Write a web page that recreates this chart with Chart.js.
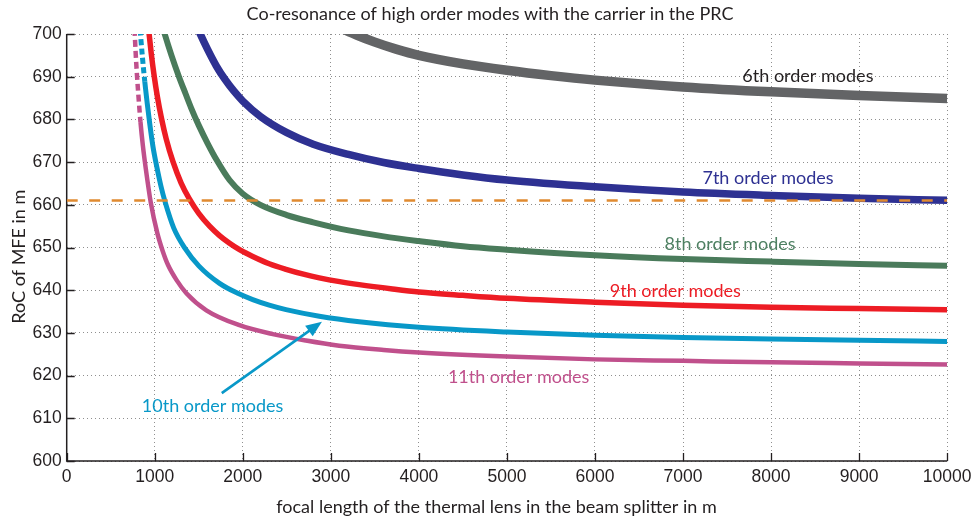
<!DOCTYPE html>
<html><head><meta charset="utf-8">
<script src="https://cdn.jsdelivr.net/npm/chart.js@4.4.1/dist/chart.umd.min.js"></script>
<style>html,body{margin:0;padding:0;background:#fff}canvas{display:block}</style>
</head><body>
<canvas id="c" width="977" height="520"></canvas>
<script>
// ---- data ----
const xTickLabels = ['0','1000','2000','3000','4000','5000','6000','7000','8000','9000','10000'];
const yTickLabels = ['600','610','620','630','640','650','660','670','680','690','700'];

const mode6X = [3100, 3300, 3500, 3750, 4000, 4500, 5000, 5500, 6000, 7000, 8000, 9000, 10000];
const mode6Y = [701.5, 699.7, 698.1, 696.4, 695.0, 693.0, 691.5, 690.25, 689.2, 687.6, 686.45, 685.6, 684.9];

const mode7X = [1480, 1517, 1600, 1700, 1800, 1900, 2000, 2200, 2500, 2800, 3200, 3600, 4000, 4500, 5000, 6000, 7000, 8000, 9000, 10000];
const mode7Y = [701.8, 700.0, 696.4, 692.5, 689.3, 686.6, 684.3, 680.7, 676.9, 674.2, 671.8, 669.9, 668.5, 667.0, 665.8, 664.2, 663.0, 662.2, 661.55, 661.05];

const mode8X = [1085, 1113, 1190, 1275, 1350, 1415, 1500, 1600, 1700, 1849, 2000, 2200, 2500, 2800, 3200, 3600, 4000, 4500, 5000, 6000, 7000, 8000, 9000, 10000];
const mode8Y = [702.0, 700.0, 695.0, 690.0, 686.0, 682.6, 678.6, 674.4, 670.6, 665.8, 662.6, 660.0, 657.6, 655.9, 654.0, 652.6, 651.5, 650.3, 649.5, 648.2, 647.3, 646.7, 646.15, 645.7];

const mode9X = [915, 936, 960, 993, 1030, 1076, 1130, 1207, 1300, 1390, 1500, 1623, 1736, 1850, 1963, 2113, 2300, 2491, 2700, 2869, 3100, 3322, 3700, 4000, 4500, 5000, 6000, 7000, 8000, 9000, 10000];
const mode9Y = [704.4, 700.0, 695.5, 690.25, 685.3, 680.3, 675.45, 670.1, 665.1, 661.5, 658.0, 655.0, 652.8, 651.0, 649.5, 647.9, 646.2, 644.9, 643.7, 642.9, 642.0, 641.3, 640.3, 639.6, 638.8, 638.1, 637.2, 636.5, 636.0, 635.7, 635.4];

const mode10X = [826, 838, 860, 887, 915, 943, 980, 1026, 1070, 1120, 1215, 1340, 1500, 1736, 1950, 2113, 2300, 2491, 2869, 3322, 4000, 5000, 6000, 7000, 8000, 9000, 10000];
const mode10Y = [703.3, 700.0, 694.6, 688.8, 683.7, 679.0, 673.6, 668.6, 664.4, 660.5, 654.6, 649.9, 645.7, 641.6, 639.2, 637.8, 636.5, 635.45, 633.9, 632.6, 631.3, 630.2, 629.45, 628.95, 628.55, 628.25, 628.0];

const mode11X = [765, 773, 785, 800, 818, 838, 865, 898, 955, 1030, 1090, 1151, 1250, 1359, 1586, 1963, 2340, 2718, 3095, 3600, 4000, 5000, 6000, 7000, 8000, 9000, 10000];
const mode11Y = [703.8, 700.0, 694.9, 689.8, 684.6, 679.4, 673.9, 668.5, 660.5, 653.3, 649.2, 645.9, 642.3, 639.3, 635.3, 631.8, 629.7, 628.2, 627.0, 626.0, 625.4, 624.45, 623.8, 623.45, 623.1, 622.85, 622.6];

const carrierRoC = 661;           // orange dashed reference line
const carrierX = [0, 10000];

const dashAbove10 = 694.5;        // 10th order curve dashed above this RoC
const dashAbove11 = 681;          // 11th order curve dashed above this RoC

const labelTexts = ['6th order modes','7th order modes','8th order modes','9th order modes','10th order modes','11th order modes'];
const labelX = [8418, 7965, 7534, 6912, 1657, 5133];
const labelY = [688.8, 664.9, 649.4, 638.35, 611.55, 618.2];

const arrowFrom = [1761, 615.9];
const arrowTo = [2899, 632.6];

// ---- styles ----
const colors = ['#636466', '#2e3192', '#4a7b5b', '#ed1c24', '#0898c8', '#c0508c'];
const labelColors = ['#231f20', '#2e3192', '#4e8062', '#ed1c24', '#0898c8', '#c0508c'];
const widths = [9.5, 7.5, 6, 5.5, 5, 4.5];
const TXT = '#231f20';

function pts(xs, ys) { return xs.map((x, i) => ({x: x, y: ys[i]})); }

const series = [
  [mode6X, mode6Y], [mode7X, mode7Y], [mode8X, mode8Y],
  [mode9X, mode9Y], [mode10X, mode10Y], [mode11X, mode11Y]
];

const datasets = [{
  data: pts(carrierX, carrierX.map(() => carrierRoC)),
  borderColor: '#e08a30', borderWidth: 2.6, borderDash: [11, 11.5],
  pointRadius: 0, order: -1, clip: 0, tension: 0
}];
series.forEach((s, i) => {
  const ds = {
    data: pts(s[0], s[1]),
    borderColor: colors[i], borderWidth: widths[i],
    pointRadius: 0, cubicInterpolationMode: 'monotone', clip: 0,
    borderCapStyle: 'butt', borderJoinStyle: 'round', order: i
  };
  if (i === 4) ds.segment = { borderDash: c => c.p0.parsed.y > dashAbove10 ? [6, 3.5] : undefined };
  if (i === 5) ds.segment = { borderDash: c => c.p0.parsed.y > dashAbove11 ? [7, 4] : undefined };
  datasets.push(ds);
});

const decor = {
  id: 'decor',
  beforeDatasetsDraw(chart) {
    const {ctx, chartArea: a, scales: {x, y}} = chart;
    ctx.save();
    ctx.strokeStyle = TXT;
    ctx.lineWidth = 1.3;
    ctx.beginPath();
    xTickLabels.forEach(t => {
      const px = Math.round(x.getPixelForValue(+t)) + 0.5;
      ctx.moveTo(px, a.bottom); ctx.lineTo(px, a.bottom - 8);
    });
    yTickLabels.forEach(t => {
      const py = Math.round(y.getPixelForValue(+t)) + 0.5;
      ctx.moveTo(a.left, py); ctx.lineTo(a.left + 8, py);
    });
    ctx.stroke();
    ctx.lineWidth = 1.5;
    ctx.beginPath();
    ctx.moveTo(a.left, a.top); ctx.lineTo(a.left, a.bottom); ctx.lineTo(a.right, a.bottom);
    ctx.stroke();
    ctx.restore();
  },
  afterDatasetsDraw(chart) {
    const {ctx, scales: {x, y}} = chart;
    ctx.save();
    ctx.font = '18px Lato';
    ctx.textAlign = 'center';
    ctx.textBaseline = 'alphabetic';
    labelTexts.forEach((t, i) => {
      ctx.fillStyle = labelColors[i];
      ctx.fillText(t, x.getPixelForValue(labelX[i]), y.getPixelForValue(labelY[i]));
    });
    // arrow
    const x0 = x.getPixelForValue(arrowFrom[0]), y0 = y.getPixelForValue(arrowFrom[1]);
    const x1 = x.getPixelForValue(arrowTo[0]), y1 = y.getPixelForValue(arrowTo[1]);
    const L = Math.hypot(x1 - x0, y1 - y0), ux = (x1 - x0) / L, uy = (y1 - y0) / L;
    const nx = -uy, ny = ux, hl = 16, hw = 6.5;
    ctx.strokeStyle = colors[4]; ctx.fillStyle = colors[4]; ctx.lineWidth = 2.6;
    ctx.beginPath(); ctx.moveTo(x0, y0); ctx.lineTo(x1 - ux * (hl - 2), y1 - uy * (hl - 2)); ctx.stroke();
    ctx.beginPath();
    ctx.moveTo(x1, y1);
    ctx.lineTo(x1 - ux * hl + nx * hw, y1 - uy * hl + ny * hw);
    ctx.lineTo(x1 - ux * hl - nx * hw, y1 - uy * hl - ny * hw);
    ctx.closePath(); ctx.fill();
    ctx.restore();
  },
  afterDraw(chart) {
    const {ctx} = chart;
    ctx.save();
    ctx.fillStyle = TXT;
    ctx.font = '18px Lato';
    ctx.textAlign = 'center';
    ctx.textBaseline = 'alphabetic';
    ctx.fillText('Co-resonance of high order modes with the carrier in the PRC', 490, 20);
    ctx.fillText('focal length of the thermal lens in the beam splitter in m', 496.5, 513);
    ctx.translate(24.5, 256.7);
    ctx.rotate(-Math.PI / 2);
    ctx.fillText('RoC of MFE in m', 0, 0);
    ctx.restore();
  }
};

new Chart(document.getElementById('c'), {
  type: 'line',
  data: { datasets },
  options: {
    responsive: false, animation: false, events: [],
    layout: { padding: { left: 0, right: 27.3, top: 34, bottom: 0 } },
    plugins: { legend: { display: false }, tooltip: { enabled: false }, title: { display: false } },
    scales: {
      x: {
        type: 'linear', min: 0, max: 10000,
        afterFit: s => { s.height = 59; },
        afterBuildTicks: s => { s.ticks = xTickLabels.map(v => ({value: +v})); },
        ticks: { callback: (v, i) => xTickLabels[i], color: TXT, font: { family: 'Liberation Sans', size: 17.5 }, padding: 5.5, maxRotation: 0, autoSkip: false },
        grid: { color: '#8f8f8f', lineWidth: 1, drawTicks: false },
        border: { display: false, dash: [1, 3] }
      },
      y: {
        type: 'linear', min: 600, max: 700,
        afterFit: s => { s.width = 66.7; },
        afterBuildTicks: s => { s.ticks = yTickLabels.map(v => ({value: +v})); },
        ticks: { callback: (v, i) => yTickLabels[i], color: TXT, font: { family: 'Liberation Sans', size: 17.5 }, padding: 5, autoSkip: false },
        grid: { color: '#8f8f8f', lineWidth: 1, drawTicks: false },
        border: { display: false, dash: [1, 3] }
      }
    }
  },
  plugins: [decor]
});
</script>
</body></html>
